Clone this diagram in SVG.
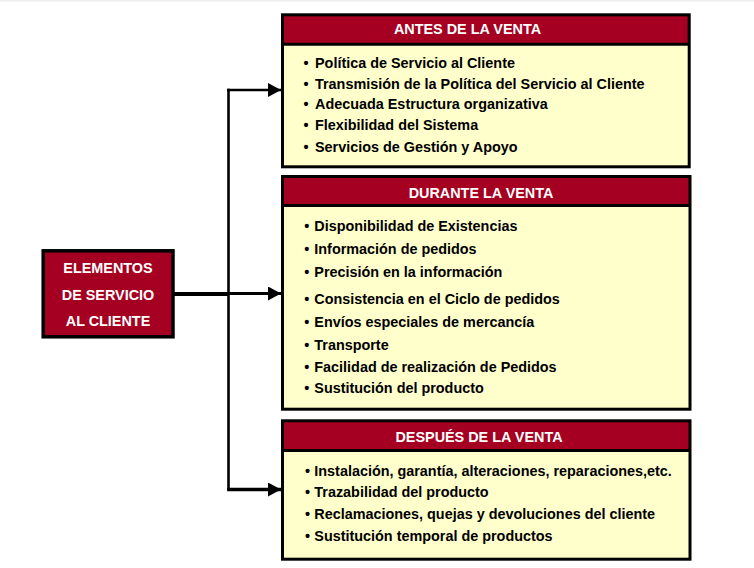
<svg xmlns="http://www.w3.org/2000/svg" width="754" height="568" viewBox="0 0 754 568">
<defs>
<style>
.t{font-family:"Liberation Sans",Arial,sans-serif;font-weight:bold;font-size:14.4px;}
.hd{fill:#FFFFFF;text-anchor:middle;}
.bd{fill:#000000;}
.body{fill:#FFFFCC;}
.head{fill:#A50021;}
.frame{fill:none;stroke:#000000;stroke-width:3;}
.sep{stroke:#000000;stroke-width:3;}
.ln{fill:none;stroke:#000000;}
</style>
<marker id="arr" markerUnits="userSpaceOnUse" markerWidth="14" markerHeight="15" refX="13" refY="7" orient="auto">
<path d="M0,0 L13,7 L0,14 Z" fill="#000000"/>
</marker>
</defs>
<rect x="0" y="0" width="754" height="568" fill="#FFFFFF"/>
<rect x="0" y="0" width="754" height="1.5" fill="#EEEEEE"/>

<g id="connectors">
<path class="ln" d="M174,294 L228.5,294" stroke-width="4"/>
<path class="ln" d="M228.5,293.5 L281,293.5" stroke-width="3" marker-end="url(#arr)"/>
<path class="ln" d="M228.5,88.8 L228.5,490.5" stroke-width="2.6"/>
<path class="ln" d="M227.2,90 L281,90" stroke-width="2.6" marker-end="url(#arr)"/>
<path class="ln" d="M227.2,489.5 L281,489.5" stroke-width="3.5" marker-end="url(#arr)"/>
</g>

<g id="elementos">
<rect x="43.2" y="250.8" width="129.8" height="86" fill="#A50021" stroke="#000000" stroke-width="3.5"/>
<text class="t hd" x="108" y="273.3">ELEMENTOS</text>
<text class="t hd" x="108" y="300">DE SERVICIO</text>
<text class="t hd" x="108" y="326">AL CLIENTE</text>
</g>

<g id="antes">
<rect class="body" x="282.5" y="14.8" width="406.7" height="152"/>
<rect class="head" x="282.5" y="14.8" width="406.7" height="29.4"/>
<line class="sep" x1="282.5" y1="44.2" x2="689.2" y2="44.2"/>
<rect class="frame" x="282.5" y="14.8" width="406.7" height="152"/>
<text class="t hd" x="467.5" y="34">ANTES DE LA VENTA</text>
<text class="t bd" x="303.4" y="67.7">•<tspan x="315">Política de Servicio al Cliente</tspan></text>
<text class="t bd" x="303.4" y="89.3">•<tspan x="315">Transmisión de la Política del Servicio al Cliente</tspan></text>
<text class="t bd" x="303.4" y="109.4">•<tspan x="315">Adecuada Estructura organizativa</tspan></text>
<text class="t bd" x="303.4" y="130">•<tspan x="315">Flexibilidad del Sistema</tspan></text>
<text class="t bd" x="303.4" y="151.7">•<tspan x="315">Servicios de Gestión y Apoyo</tspan></text>
</g>

<g id="durante">
<rect class="body" x="282.5" y="176.5" width="407.5" height="232.7"/>
<rect class="head" x="282.5" y="176.5" width="407.5" height="29"/>
<line class="sep" x1="282.5" y1="205.4" x2="690" y2="205.4"/>
<rect class="frame" x="282.5" y="176.5" width="407.5" height="232.7"/>
<text class="t hd" x="481" y="198.3">DURANTE LA VENTA</text>
<text class="t bd" x="304.3" y="230.8">•<tspan x="314.3">Disponibilidad de Existencias</tspan></text>
<text class="t bd" x="304.3" y="253.6">•<tspan x="314.3">Información de pedidos</tspan></text>
<text class="t bd" x="304.3" y="277.3">•<tspan x="314.3">Precisión en la información</tspan></text>
<text class="t bd" x="304.3" y="303.6">•<tspan x="314.3">Consistencia en el Ciclo de pedidos</tspan></text>
<text class="t bd" x="304.3" y="326.7">•<tspan x="314.3">Envíos especiales de mercancía</tspan></text>
<text class="t bd" x="304.3" y="349.6">•<tspan x="314.3">Transporte</tspan></text>
<text class="t bd" x="304.3" y="371.7">•<tspan x="314.3">Facilidad de realización de Pedidos</tspan></text>
<text class="t bd" x="304.3" y="393">•<tspan x="314.3">Sustitución del producto</tspan></text>
</g>

<g id="despues">
<rect class="body" x="282.5" y="420.8" width="407.5" height="138.4"/>
<rect class="head" x="282.5" y="420.8" width="407.5" height="29.7"/>
<line class="sep" x1="282.5" y1="450.5" x2="690" y2="450.5"/>
<rect class="frame" x="282.5" y="420.8" width="407.5" height="138.4"/>
<text class="t hd" x="479" y="441.7">DESPUÉS DE LA VENTA</text>
<text class="t bd" x="305" y="476">•<tspan x="314.3">Instalación, garantía, alteraciones, reparaciones,etc.</tspan></text>
<text class="t bd" x="305" y="497.3">•<tspan x="314.3">Trazabilidad del producto</tspan></text>
<text class="t bd" x="305" y="519.3">•<tspan x="314.3">Reclamaciones, quejas y devoluciones del cliente</tspan></text>
<text class="t bd" x="305" y="540.7">•<tspan x="314.3">Sustitución temporal de productos</tspan></text>
</g>
</svg>
